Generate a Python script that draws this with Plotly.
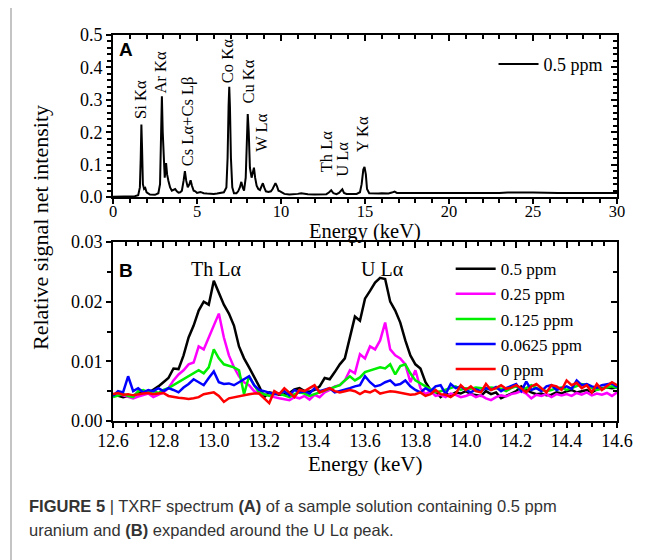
import plotly.graph_objects as go

# ---------------- Panel A data (full spectrum, 0.5 ppm) ----------------
energy_a = [0.0, 0.5, 1.0, 1.3, 1.5, 1.6, 1.65, 1.69, 1.73, 1.78, 1.85, 1.92, 2.0, 2.2, 2.5,
            2.6, 2.7, 2.8, 2.86, 2.91, 2.96, 3.02, 3.08, 3.16, 3.22, 3.3, 3.4, 3.5, 3.6, 3.7,
            3.8, 3.9, 4.0, 4.1, 4.2, 4.28, 4.36, 4.45, 4.55, 4.62, 4.7, 4.8, 4.9, 5.0, 5.2,
            5.4, 5.6, 5.8, 6.0, 6.2, 6.4, 6.6, 6.75, 6.82, 6.88, 6.92, 6.96, 7.02, 7.1, 7.2,
            7.35, 7.45, 7.55, 7.64, 7.72, 7.8, 7.9, 7.96, 8.02, 8.08, 8.15, 8.25, 8.33, 8.39,
            8.46, 8.55, 8.65, 8.75, 8.85, 8.92, 9.0, 9.1, 9.25, 9.4, 9.5, 9.6, 9.67, 9.75,
            9.85, 9.95, 10.05, 10.2, 10.5, 10.8, 11.0, 11.2, 11.4, 11.6, 12.0, 12.4, 12.7,
            12.85, 12.99, 13.12, 13.3, 13.45, 13.6, 13.65, 13.75, 13.9, 14.2, 14.5, 14.7,
            14.8, 14.9, 14.97, 15.05, 15.12, 15.25, 15.5, 15.8, 16.0, 16.2, 16.4, 16.6,
            16.76, 16.9, 17.1, 17.3, 17.6, 18.0, 18.5, 19.0, 19.5, 20.0, 20.5, 21.0, 21.5,
            22.0, 22.5, 23.0, 23.5, 24.0, 24.5, 25.0, 25.5, 26.0, 26.5, 27.0, 27.5, 28.0,
            28.5, 29.0, 29.5, 30.0]
signal_a = [0.001, 0.001, 0.002, 0.003, 0.006, 0.03, 0.12, 0.224, 0.15, 0.04, 0.025, 0.028, 0.015, 0.008, 0.007,
            0.01, 0.012, 0.04, 0.2, 0.311, 0.2, 0.09, 0.06, 0.105, 0.07, 0.05, 0.03, 0.02, 0.022, 0.025,
            0.018, 0.014, 0.015, 0.02, 0.05, 0.08, 0.05, 0.03, 0.04, 0.052, 0.035, 0.02, 0.018, 0.013, 0.016,
            0.012, 0.011, 0.01, 0.01, 0.011, 0.012, 0.015, 0.03, 0.12, 0.28, 0.34, 0.28, 0.12, 0.03, 0.012,
            0.012, 0.018, 0.03, 0.047, 0.03, 0.02, 0.06, 0.18, 0.256, 0.2, 0.09, 0.06, 0.085, 0.091,
            0.06, 0.035, 0.025, 0.022, 0.035, 0.043, 0.03, 0.018, 0.016, 0.018, 0.025, 0.038, 0.043, 0.035,
            0.02, 0.018, 0.014, 0.01, 0.008, 0.008, 0.01, 0.012, 0.01, 0.009, 0.008, 0.008, 0.009,
            0.014, 0.021, 0.012, 0.009, 0.013, 0.023, 0.024, 0.013, 0.01, 0.01, 0.01, 0.015,
            0.04, 0.085, 0.093, 0.07, 0.025, 0.012, 0.011, 0.011, 0.012, 0.012, 0.011, 0.014,
            0.017, 0.013, 0.013, 0.012, 0.011, 0.011, 0.012, 0.011, 0.012, 0.012, 0.013, 0.012, 0.013,
            0.013, 0.012, 0.013, 0.014, 0.013, 0.014, 0.014, 0.013, 0.014, 0.013, 0.013, 0.014, 0.013,
            0.013, 0.014, 0.013, 0.013]

peak_labels = ["Si K\u03b1", "Ar K\u03b1", "Cs L\u03b1+Cs L\u03b2", "Co K\u03b1", "Cu K\u03b1",
               "W L\u03b1", "Th L\u03b1", "U L\u03b1", "Y K\u03b1"]
peak_label_x = [1.63, 2.85, 4.48, 6.82, 8.09, 8.82, 12.69, 13.65, 14.87]
peak_label_y = [0.301, 0.384, 0.235, 0.418, 0.356, 0.199, 0.142, 0.116, 0.193]

# ---------------- Panel B data (expanded around U La) ----------------
energy_b = [12.60, 12.62, 12.64, 12.66, 12.68, 12.70, 12.72, 12.74, 12.76, 12.78,
            12.80, 12.82, 12.84, 12.86, 12.88, 12.90, 12.92, 12.94, 12.96, 12.98,
            13.00, 13.02, 13.04, 13.06, 13.08, 13.10, 13.12, 13.14, 13.16, 13.18,
            13.20, 13.22, 13.24, 13.26, 13.28, 13.30, 13.32, 13.34, 13.36, 13.38,
            13.40, 13.42, 13.44, 13.46, 13.48, 13.50, 13.52, 13.54, 13.56, 13.58,
            13.60, 13.62, 13.64, 13.66, 13.68, 13.70, 13.72, 13.74, 13.76, 13.78,
            13.80, 13.82, 13.84, 13.86, 13.88, 13.90, 13.92, 13.94, 13.96, 13.98,
            14.00, 14.02, 14.04, 14.06, 14.08, 14.10, 14.12, 14.14, 14.16, 14.18,
            14.20, 14.22, 14.24, 14.26, 14.28, 14.30, 14.32, 14.34, 14.36, 14.38,
            14.40, 14.42, 14.44, 14.46, 14.48, 14.50, 14.52, 14.54, 14.56, 14.58,
            14.60]

ppm_050 = [.0045, .0042, .0040, .0042, .0041, .0048, .0050, .0047, .0052, .0058,
           .0065, .0072, .0088, .0087, .0110, .0140, .0160, .0185, .0200, .0195,
           .0235, .0215, .0195, .0180, .0160, .0125, .0105, .0090, .0075, .0058,
           .0040, .0048, .0046, .0044, .0045, .0047, .0053, .0055, .0050, .0049,
           .0052, .0058, .0072, .0070, .0082, .0095, .0105, .0140, .0175, .0168,
           .0205, .0218, .0232, .0240, .0238, .0200, .0185, .0165, .0135, .0110,
           .0095, .0088, .0065, .0052, .0050, .0040, .0046, .0043, .0048, .0046,
           .0050, .0045, .0043, .0042, .0050, .0045, .0048, .0038, .0042, .0046,
           .0050, .0058, .0052, .0048, .0045, .0046, .0043, .0044, .0048, .0046,
           .0050, .0052, .0048, .0050, .0052, .0048, .0053, .0055, .0056, .0055,
           .0056]
ppm_025 = [.0042, .0045, .0043, .0040, .0038, .0041, .0043, .0046, .0040, .0044,
           .0048, .0055, .0068, .0078, .0085, .0095, .0098, .0125, .0120, .0140,
           .0160, .0180, .0140, .0110, .0090, .0075, .0065, .0060, .0050, .0046,
           .0045, .0042, .0040, .0038, .0037, .0035, .0040, .0038, .0042, .0036,
           .0044, .0040, .0048, .0052, .0058, .0060, .0068, .0085, .0080, .0112,
           .0105, .0125, .0120, .0135, .0165, .0120, .0110, .0105, .0095, .0065,
           .0085, .0055, .0045, .0050, .0042, .0044, .0040, .0046, .0044, .0040,
           .0042, .0045, .0040, .0043, .0038, .0035, .0040, .0043, .0041, .0045,
           .0047, .0050, .0046, .0038, .0044, .0042, .0045, .0040, .0045, .0043,
           .0045, .0042, .0047, .0044, .0048, .0043, .0046, .0044, .0047, .0042,
           .0048]
ppm_0125 = [.0040, .0043, .0045, .0042, .0040, .0050, .0052, .0048, .0050, .0047,
            .0052, .0055, .0060, .0065, .0070, .0075, .0080, .0085, .0080, .0090,
            .0120, .0105, .0095, .0092, .0090, .0085, .0045, .0075, .0060, .0048,
            .0045, .0042, .0048, .0046, .0043, .0040, .0045, .0048, .0046, .0042,
            .0045, .0048, .0052, .0055, .0058, .0060, .0068, .0075, .0068, .0073,
            .0082, .0085, .0088, .0090, .0088, .0095, .0078, .0092, .0095, .0080,
            .0068, .0063, .0058, .0052, .0048, .0050, .0052, .0055, .0058, .0052,
            .0055, .0054, .0056, .0055, .0054, .0056, .0055, .0054, .0050, .0055,
            .0058, .0052, .0055, .0060, .0055, .0053, .0050, .0052, .0055, .0056,
            .0052, .0055, .0058, .0062, .0060, .0055, .0052, .0054, .0056, .0058,
            .0055]
ppm_00625 = [.0042, .0050, .0048, .0075, .0050, .0055, .0048, .0052, .0050, .0055,
             .0050, .0055, .0052, .0048, .0056, .0062, .0070, .0065, .0060, .0072,
             .0083, .0065, .0062, .0063, .0060, .0065, .0070, .0075, .0060, .0052,
             .0050, .0048, .0045, .0046, .0050, .0043, .0052, .0048, .0050, .0046,
             .0055, .0050, .0052, .0055, .0048, .0050, .0052, .0055, .0058, .0060,
             .0075, .0065, .0058, .0060, .0065, .0068, .0060, .0062, .0068, .0058,
             .0052, .0048, .0055, .0050, .0058, .0060, .0045, .0062, .0055, .0058,
             .0052, .0048, .0053, .0050, .0055, .0052, .0057, .0050, .0055, .0058,
             .0062, .0050, .0066, .0052, .0055, .0050, .0058, .0060, .0052, .0055,
             .0058, .0054, .0068, .0060, .0062, .0058, .0056, .0060, .0062, .0063,
             .0057]
ppm_0 = [.0045, .0047, .0044, .0045, .0043, .0045, .0046, .0047, .0045, .0046,
         .0047, .0042, .0040, .0039, .0038, .0037, .0038, .0040, .0045, .0047,
         .0048, .0042, .0032, .0038, .0040, .0042, .0043, .0045, .0046, .0046,
         .0038, .0030, .0050, .0045, .0055, .0048, .0040, .0052, .0050, .0055,
         .0060, .0048, .0052, .0055, .0050, .0048, .0050, .0052, .0050, .0045,
         .0050, .0048, .0052, .0046, .0048, .0050, .0049, .0047, .0046, .0044,
         .0045, .0048, .0042, .0045, .0052, .0045, .0044, .0040, .0046, .0060,
         .0052, .0058, .0050, .0048, .0062, .0052, .0055, .0060, .0054, .0056,
         .0060, .0055, .0048, .0058, .0062, .0055, .0048, .0060, .0058, .0052,
         .0068, .0060, .0064, .0055, .0060, .0048, .0062, .0052, .0058, .0065,
         .0060]

series_b_names = ["0.5 ppm", "0.25 ppm", "0.125 ppm", "0.0625 ppm", "0 ppm"]
series_b_values = [ppm_050, ppm_025, ppm_0125, ppm_00625, ppm_0]
series_b_colors = ["#000000", "#ff00ff", "#00ee00", "#0000ff", "#ff0000"]

ticks_a_x = [0, 5, 10, 15, 20, 25, 30]
ticks_a_y = [0, 0.1, 0.2, 0.3, 0.4, 0.5]
ticks_b_x = [12.6, 12.8, 13.0, 13.2, 13.4, 13.6, 13.8, 14.0, 14.2, 14.4, 14.6]
ticks_b_y = [0, 0.01, 0.02, 0.03]

SERIF = "Liberation Serif"
SANS = "Liberation Sans"

fig = go.Figure()

fig.add_trace(go.Scatter(x=energy_a, y=signal_a, mode="lines", name="0.5 ppm",
                         line=dict(color="black", width=2), xaxis="x", yaxis="y",
                         legend="legend"))

for name, vals, col in zip(series_b_names, series_b_values, series_b_colors):
    fig.add_trace(go.Scatter(x=energy_b, y=vals, mode="lines", name=name,
                             line=dict(color=col, width=2.5), xaxis="x2", yaxis="y2",
                             legend="legend2"))

# empty helper traces so the mirrored (inside-tick) axes exist
fig.add_trace(go.Scatter(x=[], y=[], xaxis="x3", yaxis="y3", showlegend=False, hoverinfo="skip"))
fig.add_trace(go.Scatter(x=[], y=[], xaxis="x4", yaxis="y4", showlegend=False, hoverinfo="skip"))

dom_a = [0.580, 1.0]
dom_b = [0.0, 0.4637]


def axis(size=18, **kw):
    d = dict(showline=True, linecolor="black", linewidth=2, showgrid=False,
             zeroline=False, tickcolor="black", tickwidth=2,
             tickfont=dict(family=SERIF, size=size, color="black"))
    d.update(kw)
    return d


def minor(dt, inside=False, tick0=None):
    m = dict(dtick=dt, ticks="inside" if inside else "outside", ticklen=4,
             tickcolor="black", tickwidth=2)
    if tick0 is not None:
        m["tick0"] = tick0
    return m


fig.update_layout(
    width=649, height=560,
    margin=dict(l=105, r=40, t=27, b=147),
    paper_bgcolor="white", plot_bgcolor="white",
    font=dict(family=SERIF, size=18, color="black"),
    showlegend=True,
    xaxis=axis(size=16.5, domain=[0, 1], anchor="y", range=[0, 30], tickvals=ticks_a_x,
               ticks="outside", ticklen=5, ticklabelstandoff=-7, minor=minor(1)),
    yaxis=axis(domain=dom_a, anchor="x", range=[0, 0.5], tickvals=ticks_a_y,
               tickformat=".1f", ticks="outside", ticklen=5, minor=minor(0.02)),
    xaxis3=axis(overlaying="x", anchor="y3", side="top", range=[0, 30],
                tickvals=ticks_a_x, showticklabels=False, ticks="inside", ticklen=6,
                minor=minor(1, True)),
    yaxis3=axis(overlaying="y", anchor="x3", side="right", range=[0, 0.5],
                tickvals=ticks_a_y, showticklabels=False, ticks="inside", ticklen=6,
                minor=minor(0.02, True)),
    xaxis2=axis(domain=[0, 1], anchor="y2", range=[12.6, 14.6], tickvals=ticks_b_x,
                tickformat=".1f", ticks="outside", ticklen=5, ticklabelstandoff=-3,
                minor=minor(0.05, False, 12.6)),
    yaxis2=axis(domain=dom_b, anchor="x2", range=[0, 0.03], tickvals=ticks_b_y,
                tickformat=".2f", ticks="outside", ticklen=5, minor=minor(0.005)),
    xaxis4=axis(overlaying="x2", anchor="y4", side="top", range=[12.6, 14.6],
                tickvals=ticks_b_x, showticklabels=False, ticks="inside", ticklen=6,
                minor=minor(0.05, True, 12.6)),
    yaxis4=axis(overlaying="y2", anchor="x4", side="right", range=[0, 0.03],
                tickvals=ticks_b_y, showticklabels=False, ticks="inside", ticklen=6,
                minor=minor(0.005, True)),
    legend=dict(x=0.755, y=0.972, xanchor="left", yanchor="top",
                bgcolor="rgba(0,0,0,0)", borderwidth=0,
                font=dict(family=SERIF, size=18, color="black"), itemwidth=40),
    legend2=dict(x=0.67, y=0.44, xanchor="left", yanchor="top",
                 bgcolor="rgba(0,0,0,0)", borderwidth=0, tracegroupgap=0,
                 font=dict(family=SERIF, size=17, color="black"), itemwidth=40),
)

annotations = []
for lab, lx, ly in zip(peak_labels, peak_label_x, peak_label_y):
    annotations.append(dict(text=lab, x=lx, y=ly, xref="x", yref="y", showarrow=False,
                            textangle=-90, xanchor="center", yanchor="middle",
                            font=dict(family=SERIF, size=16.5, color="black")))
annotations += [
    dict(text="<b>A</b>", x=0.25, y=0.455, xref="x", yref="y", showarrow=False,
         xanchor="left", yanchor="middle", font=dict(family=SANS, size=19, color="black")),
    dict(text="<b>B</b>", x=12.615, y=0.0253, xref="x2", yref="y2", showarrow=False,
         xanchor="left", yanchor="middle", font=dict(family=SANS, size=19, color="black")),
    dict(text="Th L\u03b1", x=13.01, y=0.0254, xref="x2", yref="y2", showarrow=False,
         xanchor="center", yanchor="middle", font=dict(family=SERIF, size=20, color="black")),
    dict(text="U L\u03b1", x=13.67, y=0.0254, xref="x2", yref="y2", showarrow=False,
         xanchor="center", yanchor="middle", font=dict(family=SERIF, size=20, color="black")),
    dict(text="Energy (keV)", x=0.5, y=(421 - 231) / 386, xref="paper", yref="paper",
         showarrow=False, xanchor="center", yanchor="middle",
         font=dict(family=SERIF, size=20.5, color="black")),
    dict(text="Energy (keV)", x=0.5, y=(421 - 464) / 386, xref="paper", yref="paper",
         showarrow=False, xanchor="center", yanchor="middle",
         font=dict(family=SERIF, size=21, color="black")),
    dict(text="Relative signal net intensity", x=(40 - 113) / 504, y=(421 - 228) / 386,
         xref="paper", yref="paper", showarrow=False, textangle=-90,
         xanchor="center", yanchor="middle",
         font=dict(family=SERIF, size=22, color="black")),
    dict(text="<b>FIGURE 5</b> | TXRF spectrum <b>(A)</b> of a sample solution containing 0.5 ppm",
         x=(27 - 113) / 504, y=(421 - 506) / 386, xref="paper", yref="paper",
         showarrow=False, xanchor="left", yanchor="middle",
         font=dict(family=SANS, size=16.5, color="#333333")),
    dict(text="uranium and <b>(B)</b> expanded around the U L\u03b1 peak.",
         x=(27 - 113) / 504, y=(421 - 530) / 386, xref="paper", yref="paper",
         showarrow=False, xanchor="left", yanchor="middle",
         font=dict(family=SANS, size=16.5, color="#333333")),
]
fig.update_layout(annotations=annotations)

fig.add_shape(type="line", xref="paper", yref="paper",
              x0=(11 - 113) / 504, x1=(11 - 113) / 504,
              y0=(421 - 580) / 386, y1=(421 + 20) / 386,
              line=dict(color="#888888", width=1))

fig.write_html("out.html")
